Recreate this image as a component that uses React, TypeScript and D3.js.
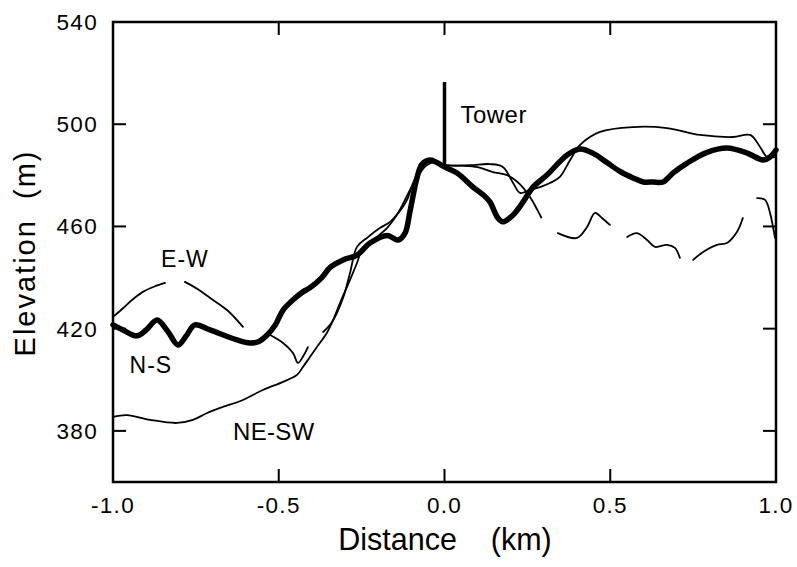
import React from "react";
import * as d3 from "d3";

// Terrain profiles through the tower site (distance in km, elevation in m)
const nsDist = [-1.0, -0.97, -0.928, -0.9, -0.867, -0.835, -0.804, -0.78, -0.753, -0.707, -0.626, -0.587, -0.56, -0.535, -0.51, -0.487, -0.455, -0.427, -0.406, -0.37, -0.345, -0.306, -0.264, -0.225, -0.173, -0.14, -0.119, -0.104, -0.083, -0.068, -0.044, -0.02, 0.0, 0.038, 0.086, 0.12, 0.137, 0.161, 0.176, 0.207, 0.237, 0.267, 0.309, 0.37, 0.409, 0.45, 0.49, 0.53, 0.569, 0.6, 0.629, 0.659, 0.689, 0.732, 0.792, 0.852, 0.913, 0.961, 0.982, 1.0];
const nsElev = [421.5, 419.5, 417.2, 419.5, 423.4, 419, 413.6, 417, 421.5, 419.5, 415.6, 414.4, 415, 417.5, 421.5, 427.3, 431.5, 434.4, 436, 440, 444, 446.9, 448.8, 453.5, 456.5, 454.7, 457.4, 466, 479, 484.3, 486, 484.8, 483.3, 480.9, 475.4, 472, 469.6, 463.3, 461.8, 464.5, 469.6, 475.4, 480.1, 488, 490.3, 488.5, 485, 481.5, 479, 477.4, 477.4, 477.4, 480.9, 484.8, 489, 490.7, 488.7, 486, 487.2, 489.9];

// E-W profile has gaps (null) where no elevation was available
const ewDist = [
  -1.0, -0.97, -0.94, -0.91, -0.875, -0.843, -0.813,
  -0.783, -0.745, -0.707, -0.656, -0.608, -0.567,
  -0.526, -0.487, -0.457, -0.442, -0.425, -0.412, -0.39,
  -0.366, -0.339, -0.306, -0.285, -0.264, -0.234, -0.195, -0.164, -0.135, -0.113, -0.095, -0.074, -0.05, -0.023, 0.0, 0.05, 0.1, 0.146, 0.189, 0.228, 0.258, 0.28, 0.292, 0.32,
  0.342, 0.4, 0.43, 0.454, 0.475, 0.499, 0.525,
  0.551, 0.581, 0.611, 0.635, 0.671, 0.695, 0.71, 0.73,
  0.75, 0.78, 0.822, 0.852, 0.882, 0.9, 0.92,
  0.943, 0.967, 0.982, 0.991, 0.997,
];
const ewElev = [
  424.6, 428, 431.5, 434.4, 436.5, 437.9, null,
  438.3, 435.5, 432, 427.3, 420.7, null,
  417.5, 414.4, 410.5, 406.6, 409.5, 412.8, null,
  418.7, 422.6, 432, 441.8, 452, 455.5, 459.4, 461.8, 466, 470.4, 477, 482.1, 485.2, 485.2, 484, 483.8, 483.2, 481.3, 480.1, 476.5, 471.5, 466.5, 463.5, null,
  457.4, 455.5, 459.8, 465.3, 463.3, 460.6, null,
  455.9, 457.4, 454.7, 452, 452.8, 451.6, 447.7, null,
  446.9, 450, 452.8, 453.5, 457.8, 463.3, null,
  471.1, 470.4, 465.3, 459.8, 455.5,
];

const neswDist = [-1.0, -0.958, -0.888, -0.807, -0.759, -0.716, -0.677, -0.608, -0.548, -0.487, -0.445, -0.427, -0.406, -0.385, -0.355, -0.336, -0.315, -0.285, -0.264, -0.246, -0.204, -0.173, -0.14, -0.104, -0.074, -0.053, -0.029, 0.0, 0.077, 0.137, 0.176, 0.207, 0.228, 0.258, 0.288, 0.318, 0.348, 0.379, 0.409, 0.469, 0.569, 0.671, 0.771, 0.87, 0.922, 0.952, 0.973, 1.0];
const neswElev = [385.5, 386.2, 384.3, 383.1, 384.3, 387.0, 389.0, 392.1, 396.0, 399.2, 401.9, 405.0, 408.9, 412.8, 418.3, 423.4, 430.1, 439.1, 445.7, 451.6, 455.9, 459.4, 465.3, 474.3, 480.9, 484.0, 485.2, 484, 484, 484.4, 483.3, 477, 473.1, 474.3, 475.4, 477, 479.4, 486, 491.9, 497, 498.9, 498.5, 495.8, 495, 495.8, 491.1, 487.2, 487.2];

// Tower mast at the origin
const towerDist = 0;
const towerBase = 484;
const towerTop = 516.5;

const xTicks = [-1.0, -0.5, 0.0, 0.5, 1.0];
const yTicks = [380, 420, 460, 500, 540];

const profileLabels = [
  { text: "Tower", x: 0.048, y: 500.5, size: 24, spacing: 0.5 },
  { text: "E-W", x: -0.855, y: 444, size: 23, spacing: 1 },
  { text: "N-S", x: -0.95, y: 402.7, size: 23, spacing: 1 },
  { text: "NE-SW", x: -0.638, y: 376.5, size: 24, spacing: 0.3 },
];

const W = 797;
const H = 567;
const M = { left: 113, right: 21, top: 22, bottom: 85 };
const FONT = "'Liberation Sans', Arial, Helvetica, sans-serif";

export default function App() {
  const x = d3.scaleLinear().domain([-1, 1]).range([M.left, W - M.right]);
  const y = d3.scaleLinear().domain([360, 540]).range([H - M.bottom, M.top]);

  const mk = (xs: number[], ys: (number | null)[]) =>
    xs.map((d, i) => ({ d, e: ys[i] }));

  const line = d3
    .line<{ d: number; e: number | null }>()
    .defined((p) => p.e !== null)
    .x((p) => x(p.d))
    .y((p) => y(p.e as number))
    .curve(d3.curveCatmullRom.alpha(0.5));

  const x0 = x(-1), x1 = x(1), y0 = y(360), y1 = y(540);
  const tickLen = 13;

  return (
    <svg width={W} height={H} style={{ position: "absolute", left: 0, top: 0, background: "#fff" }} fontFamily={FONT}>
      <rect x={0} y={0} width={W} height={H} fill="#fff" />

      {/* profiles */}
      <path d={line(mk(neswDist, neswElev)) || ""} fill="none" stroke="#000" strokeWidth={1.8} strokeLinejoin="round" strokeLinecap="round" />
      <path d={line(mk(ewDist, ewElev)) || ""} fill="none" stroke="#000" strokeWidth={1.8} strokeLinejoin="round" strokeLinecap="round" />
      <path d={line(mk(nsDist, nsElev)) || ""} fill="none" stroke="#000" strokeWidth={5.5} strokeLinejoin="round" strokeLinecap="round" />

      {/* tower */}
      <line x1={x(towerDist)} x2={x(towerDist)} y1={y(towerBase)} y2={y(towerTop)} stroke="#000" strokeWidth={3.5} />

      {/* frame */}
      <rect x={x0} y={y1} width={x1 - x0} height={y0 - y1} fill="none" stroke="#000" strokeWidth={2.5} />

      {/* x ticks, inward on bottom and top */}
      {xTicks.map((t) => (
        <g key={"x" + t}>
          <line x1={x(t)} x2={x(t)} y1={y0} y2={y0 - tickLen} stroke="#000" strokeWidth={2} />
          <line x1={x(t)} x2={x(t)} y1={y1} y2={y1 + tickLen} stroke="#000" strokeWidth={2} />
          <text x={x(t)} y={y0 + 31} textAnchor="middle" fontSize={22.5} letterSpacing={1.3} fill="#000">
            {t.toFixed(1)}
          </text>
        </g>
      ))}

      {/* y ticks, inward on left and right */}
      {yTicks.map((t) => (
        <g key={"y" + t}>
          <line x1={x0} x2={x0 + tickLen} y1={y(t)} y2={y(t)} stroke="#000" strokeWidth={2} />
          <line x1={x1} x2={x1 - tickLen} y1={y(t)} y2={y(t)} stroke="#000" strokeWidth={2} />
          <text x={x0 - 15} y={y(t)} dy="0.35em" textAnchor="end" fontSize={22.5} letterSpacing={1.3} fill="#000">
            {t}
          </text>
        </g>
      ))}

      {/* profile labels */}
      {profileLabels.map((l) => (
        <text key={l.text} x={x(l.x)} y={y(l.y)} fontSize={l.size} letterSpacing={l.spacing} fill="#000">
          {l.text}
        </text>
      ))}

      {/* axis titles */}
      <text x={445} y={550} textAnchor="middle" fontSize={30.5} fill="#000" style={{ whiteSpace: "pre" }}>
        {"Distance    (km)"}
      </text>
      <text transform={`translate(35,${253}) rotate(-90)`} textAnchor="middle" fontSize={29} letterSpacing={2} fill="#000" style={{ whiteSpace: "pre" }}>
        {"Elevation  (m)"}
      </text>
    </svg>
  );
}
